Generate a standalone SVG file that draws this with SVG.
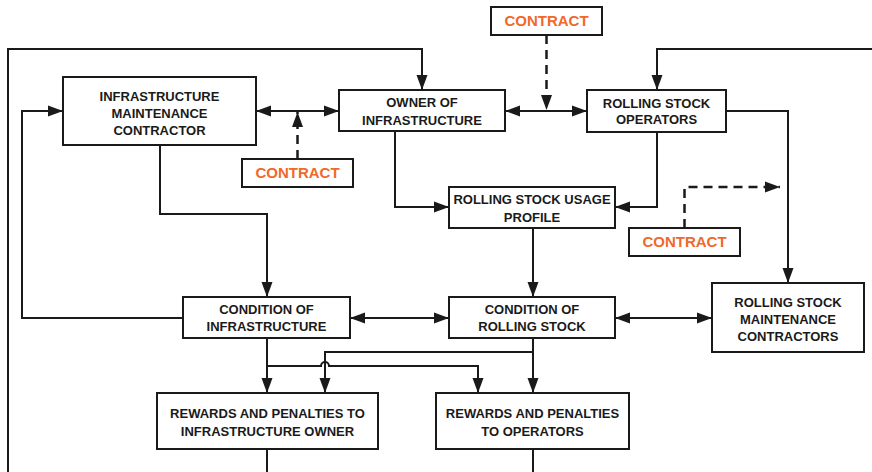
<svg xmlns="http://www.w3.org/2000/svg" width="872" height="472" viewBox="0 0 872 472">
  <defs>
    <marker id="arr" markerUnits="userSpaceOnUse" markerWidth="16" markerHeight="12" refX="15" refY="6" orient="auto-start-reverse">
      <path d="M0,0.5 L15,6 L0,11.5 Z" fill="#1a1a1a"/>
    </marker>
    <style>
      rect.box { fill: #fff; stroke: #1a1a1a; stroke-width: 2; }
      text { font-family: "Liberation Sans", Arial, sans-serif; font-weight: bold; text-anchor: middle; }
      text.node { font-size: 13px; fill: #1a1a1a; }
      text.contract { font-size: 15px; fill: #f0692a; }
      .links path { fill: none; stroke: #1a1a1a; stroke-width: 2; }
      .links path.dash { stroke-dasharray: 9 6; stroke-width: 2.5; }
    </style>
  </defs>
  <rect width="872" height="472" fill="#fff"/>

  <g class="links">
    <!-- outer feedback loop into owner -->
    <path d="M8,472 V49 H422 V90" marker-end="url(#arr)"/>
    <!-- loop from right edge into operators -->
    <path d="M872,49 H657 V90" marker-end="url(#arr)"/>
    <!-- condition of infrastructure back to maintenance contractor -->
    <path d="M183,318 H22 V111 H63" marker-end="url(#arr)"/>
    <!-- contractor <-> owner -->
    <path d="M256,111 H339" marker-start="url(#arr)" marker-end="url(#arr)"/>
    <!-- owner <-> operators -->
    <path d="M505,111 H587" marker-start="url(#arr)" marker-end="url(#arr)"/>
    <!-- contract links -->
    <path class="dash" d="M546.5,35 V110" marker-end="url(#arr)"/>
    <path class="dash" d="M297.5,159 V112" marker-end="url(#arr)"/>
    <path class="dash" d="M684.5,228 V187 H780" marker-end="url(#arr)"/>
    <!-- owner to usage profile -->
    <path d="M395,131 V207 H449" marker-end="url(#arr)"/>
    <!-- operators to usage profile -->
    <path d="M657,132 V207 H615" marker-end="url(#arr)"/>
    <!-- operators to rolling stock maintenance -->
    <path d="M726,111 H788 V283" marker-end="url(#arr)"/>
    <!-- maintenance contractor to condition of infrastructure -->
    <path d="M160,145 V214 H267 V297" marker-end="url(#arr)"/>
    <!-- usage profile to condition of rolling stock -->
    <path d="M533,228 V297" marker-end="url(#arr)"/>
    <!-- condition <-> condition -->
    <path d="M350,318 H449" marker-start="url(#arr)" marker-end="url(#arr)"/>
    <!-- condition of rolling stock <-> maintenance contractors -->
    <path d="M615,318 H712" marker-start="url(#arr)" marker-end="url(#arr)"/>
    <!-- condition of infrastructure to rewards -->
    <path d="M267,338 V393" marker-end="url(#arr)"/>
    <path d="M267,366 H321 A4,4 0 0 1 329,366 H478 V393" marker-end="url(#arr)"/>
    <!-- condition of rolling stock to rewards -->
    <path d="M533,338 V393" marker-end="url(#arr)"/>
    <path d="M533,352 H325 V393" marker-end="url(#arr)"/>
    <!-- outputs leaving the figure -->
    <path d="M267,449 V472"/>
    <path d="M533,449 V472"/>
  </g>

  <g id="contract-top">
    <rect class="box" x="491" y="7" width="111" height="28"/>
    <text class="contract" x="546.5" y="26">CONTRACT</text>
  </g>
  <g id="contract-infra">
    <rect class="box" x="242" y="159" width="111" height="28"/>
    <text class="contract" x="297.5" y="178">CONTRACT</text>
  </g>
  <g id="contract-rs">
    <rect class="box" x="629" y="228" width="111" height="28"/>
    <text class="contract" x="684.5" y="247">CONTRACT</text>
  </g>

  <g id="infra-maintenance-contractor">
    <rect class="box" x="63" y="77" width="193" height="68"/>
    <text class="node" x="159.5" y="100.5">INFRASTRUCTURE</text>
    <text class="node" x="159.5" y="117.5">MAINTENANCE</text>
    <text class="node" x="159.5" y="134.5">CONTRACTOR</text>
  </g>
  <g id="owner">
    <rect class="box" x="339" y="90" width="166" height="41"/>
    <text class="node" x="422" y="107">OWNER OF</text>
    <text class="node" x="422" y="124.5">INFRASTRUCTURE</text>
  </g>
  <g id="operators">
    <rect class="box" x="587" y="90" width="139" height="42"/>
    <text class="node" x="656.5" y="108">ROLLING STOCK</text>
    <text class="node" x="656.5" y="124">OPERATORS</text>
  </g>
  <g id="usage-profile">
    <rect class="box" x="449" y="187" width="166" height="41"/>
    <text class="node" x="532" y="204">ROLLING STOCK USAGE</text>
    <text class="node" x="532" y="222">PROFILE</text>
  </g>
  <g id="condition-infra">
    <rect class="box" x="183" y="297" width="167" height="41"/>
    <text class="node" x="266.5" y="314">CONDITION OF</text>
    <text class="node" x="266.5" y="331">INFRASTRUCTURE</text>
  </g>
  <g id="condition-rs">
    <rect class="box" x="449" y="297" width="166" height="41"/>
    <text class="node" x="532" y="314">CONDITION OF</text>
    <text class="node" x="532" y="331">ROLLING STOCK</text>
  </g>
  <g id="rs-maintenance">
    <rect class="box" x="712" y="283" width="152" height="69"/>
    <text class="node" x="788" y="307">ROLLING STOCK</text>
    <text class="node" x="788" y="324">MAINTENANCE</text>
    <text class="node" x="788" y="341">CONTRACTORS</text>
  </g>
  <g id="rewards-owner">
    <rect class="box" x="157" y="393" width="221" height="56"/>
    <text class="node" x="267.5" y="418">REWARDS AND PENALTIES TO</text>
    <text class="node" x="267.5" y="436">INFRASTRUCTURE OWNER</text>
  </g>
  <g id="rewards-operators">
    <rect class="box" x="436" y="393" width="193" height="56"/>
    <text class="node" x="532.5" y="418">REWARDS AND PENALTIES</text>
    <text class="node" x="532.5" y="436">TO OPERATORS</text>
  </g>
</svg>
